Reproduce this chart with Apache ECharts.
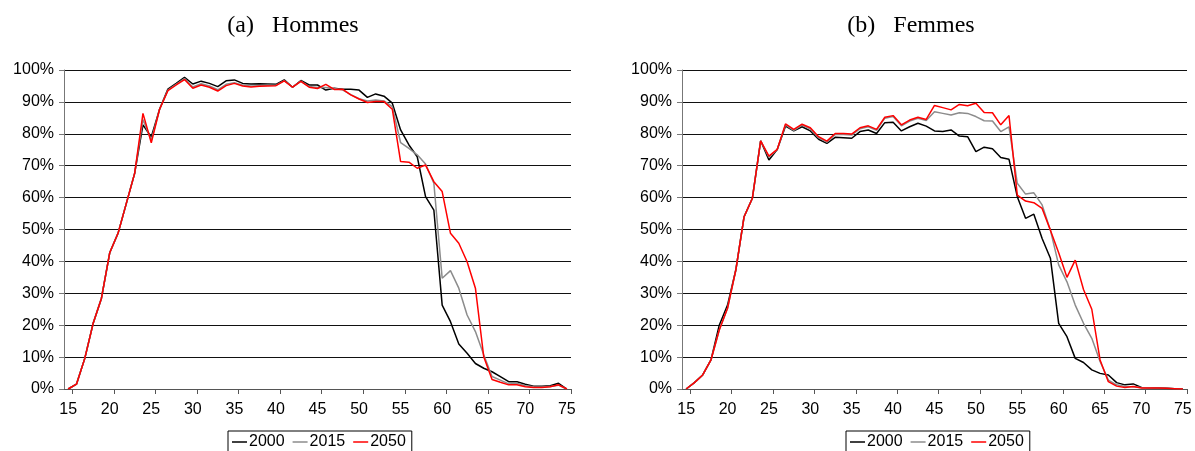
<!DOCTYPE html>
<html><head><meta charset="utf-8">
<script src="https://cdn.jsdelivr.net/npm/echarts@6/dist/echarts.min.js"></script>
<style>html,body{margin:0;padding:0;background:#fff}#c{width:1195px;height:451px}</style>
</head><body><div id="c"></div>
<script>
const ages = [];
for (let a = 15; a <= 75; a++) ages.push(a);
const xLabels = [15,20,25,30,35,40,45,50,55,60,65,70,75];
const xTicks = [15.5,20.5,25.5,30.5,35.5,40.5,45.5,50.5,55.5,60.5,65.5,70.5,75.5];
const seriesNames = ['2000','2015','2050'];
const titles = ['(a)\u00a0\u00a0\u00a0Hommes','(b)\u00a0\u00a0\u00a0Femmes'];

const hommes2000 = [0,1.5,9.6,20.5,28.4,42.7,48.8,58.2,67.6,82.8, 79,87.7,94,95.8,97.7,95.6,96.5,95.8,94.8,96.6, 96.9,95.8,95.6,95.7,95.6,95.5,96.9,94.6,96.7,95.3, 95.3,93.7,94.3,94,94,93.7,91.4,92.5,91.8,89.6, 81.2,76.5,72.8,60.3,56.1,26.3,21.1,14.1,11.2,8, 6.5,5.4,3.9,2.3,2.3,1.5,0.9,0.9,1,1.8, 0];
const hommes2015 = [0,1.5,9.6,20.5,28.4,42.7,48.8,58.2,67.6,84.5, 78,87.7,93.7,95.5,97.3,94.7,95.7,95,93.8,95.5, 96,95.2,95,95.1,95.2,95.2,96.7,94.6,96.5,94.8, 94.5,94.5,94.2,93.8,92.3,91,90.3,90.6,90.3,88.5, 77.2,75.4,73.4,70.5,64.5,34.7,37.1,31.6,23.2,18, 10.7,3.9,2.8,1.6,1.8,1,0.7,0.6,0.8,1.2, 0];
const hommes2050 = [0,1.5,9.6,20.5,28.4,42.7,48.8,58.2,67.6,86.4, 77.2,87.7,93.5,95.3,97,94.3,95.3,94.6,93.4,95.1, 95.8,95,94.7,94.9,95,95.1,96.6,94.6,96.4,94.6, 94.2,95.5,93.9,94,92.2,90.9,89.8,90.1,90.1,87.7, 71.3,71.1,69.2,70.2,65,61.9,48.8,45.7,39.9,31.6, 10.1,3,2.1,1.3,1.3,0.7,0.5,0.5,0.7,1.3, 0];

const femmes2000 = [0,2,4.4,9.1,20,26.3,37.3,54,59.8,77.8, 71.8,75.1,82.4,80.9,82.2,80.9,78.3,77,78.9,78.8, 78.6,80.7,81.2,80.1,83.5,83.6,80.9,82.2,83.3,82.4, 80.9,80.7,81.2,79.3,79.1,74.4,75.8,75.3,72.6,72, 60.3,53.5,54.8,47.2,41,20.6,16.4,9.6,8.3,6, 4.9,4.4,2,1.3,1.6,0.5,0.4,0.3,0.2,0.1, 0];
const femmes2015 = [0,2,4.4,9.1,18.5,25.3,37.3,54,59.8,77.8, 72.7,75,82.8,81.1,82.7,81.6,78.8,77.4,79.8,79.8, 79.6,81.6,82.2,81.1,84.9,85.4,82.5,84,84.9,84.2, 86.9,86.4,85.9,86.6,86.4,85.4,84.1,84,80.7,82.2, 64.5,61.1,61.5,57.7,49.8,38.9,33.6,26.3,20.6,15.9, 8.6,2.8,1.3,0.8,0.7,0.5,0.4,0.3,0.2,0.1, 0];
const femmes2050 = [0,2,4.4,9.1,18.5,25.3,37.3,54,59.8,77.8, 73,75.1,83.1,81.4,83,81.9,79.1,77.7,80.1,80.1, 79.9,81.9,82.5,81.4,85.2,85.7,82.8,84.3,85.2,84.5, 88.9,88.2,87.5,89.2,88.8,89.6,86.7,86.6,82.8,85.7, 60.8,58.9,58.4,56.6,49.8,42.7,35,40.4,31.2,25, 9.1,2.3,0.9,0.5,0.8,0.3,0.3,0.3,0.2,0.1, 0];

const colors = ['#000000','#8c8c8c','#ff0000'];
const panels = [[hommes2000,hommes2015,hommes2050],[femmes2000,femmes2015,femmes2050]];
const grids = [{left:64, top:70, width:507, height:319},{left:682, top:70, width:505, height:319}];
const titlePos = [288, 906];
const legendLeft = [228, 846];

const font = '"Liberation Sans", Arial, sans-serif';
const option = {
  animation:false,
  backgroundColor:'#fff',
  title: titles.map((t,i)=>({text:t, left:titlePos[i], top:9, textAlign:'center',
    textStyle:{fontFamily:'"Liberation Serif","Times New Roman",serif', fontSize:24, fontWeight:'normal', color:'#000'}})),
  grid: grids,
  xAxis: grids.map((g,i)=>({type:'value', gridIndex:i, min:14.5, max:75.5,
    axisLine:{show:true, lineStyle:{color:'#555', width:1}},
    axisTick:{show:true, length:5, customValues:xTicks, lineStyle:{color:'#555'}},
    axisLabel:{customValues:xLabels, color:'#000', fontFamily:font, fontSize:16, margin:13},
    splitLine:{show:false}})),
  yAxis: grids.map((g,i)=>({type:'value', gridIndex:i, min:0, max:100, interval:10,
    axisLine:{show:true, lineStyle:{color:'#777', width:1}},
    axisTick:{show:true, length:5, lineStyle:{color:'#777'}},
    axisLabel:{formatter:'{value}%', color:'#000', fontFamily:font, fontSize:16, margin:10},
    splitLine:{show:true, lineStyle:{color:'#111', width:1}}})),
  legend: legendLeft.map(l=>({data:seriesNames.map(n=>({name:n, icon:'rect'})), left:l, top:431, orient:'horizontal',
    itemWidth:15, itemHeight:1.5, itemGap:8, padding:[3,6,6,4],
    borderColor:'#000', borderWidth:1,
    textStyle:{fontFamily:font, fontSize:16, color:'#000', padding:[0,0,0,-3]}})),
  series: []
};
panels.forEach((sets,pi)=>{
  sets.forEach((vals,si)=>{
    option.series.push({name:seriesNames[si], type:'line', xAxisIndex:pi, yAxisIndex:pi,
      symbol:'none', smooth:false, color:colors[si],
      lineStyle:{color:colors[si], width:1.5},
      data: ages.map((a,k)=>[a, vals[k]])});
  });
});
const chart = echarts.init(document.getElementById('c'));
chart.setOption(option);
</script></body></html>
